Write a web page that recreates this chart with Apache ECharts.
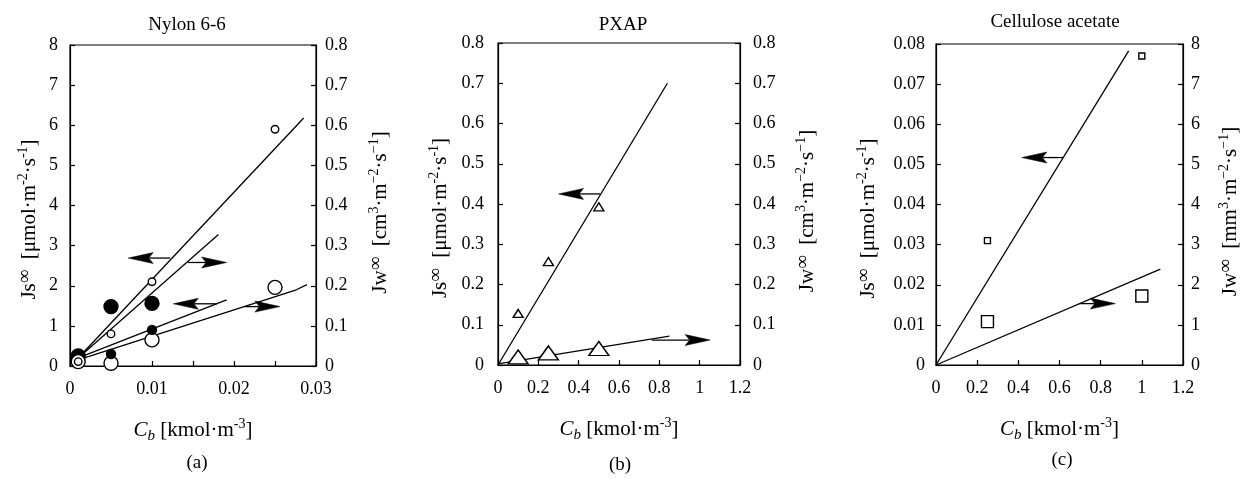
<!DOCTYPE html>
<html><head><meta charset="utf-8">
<script src="https://cdn.jsdelivr.net/npm/echarts@6/dist/echarts.min.js"></script>
<style>html,body{margin:0;padding:0;background:#fff}#c{width:1242px;height:479px}</style>
</head><body><div id="c"></div>
<script>
// ---------- Panel (a) Nylon 6-6 ----------
const aTicksX = [0, 0.03, 0.01];          // min, max, interval
const aTicksJs = [0, 8, 1];
const aTicksJw = [0, 0.8, 0.1];
const aJsOpenX = [0.001, 0.005, 0.01, 0.025];
const aJsOpenY = [0.11, 0.8, 2.1, 5.9];
const aJsFilledX = [0.005, 0.01];
const aJsFilledY = [0.3, 0.9];
const aJwFilledX = [0.001, 0.005, 0.01];
const aJwFilledY = [0.025, 0.148, 0.156];
const aJwOpenX = [0.001, 0.005, 0.01, 0.025];
const aJwOpenY = [0.011, 0.007, 0.065, 0.196];
const aFitJsOpen = [[0.001, 0.2], [0.0285, 6.18]];
const aFitJwFilled = [[0.001, 0.02], [0.0181, 0.328]];
const aFitJsFilled = [[0.001, 0.2], [0.0191, 1.65]];
const aFitJwOpen = [[0.001, 0.015], [0.0276, 0.19], [0.0289, 0.203]];
// arrows (in Js coordinates): [x1, y1, x2(tip), y2]
const aArrows = [[0.0122, 2.69, 0.0071, 2.69], [0.0144, 2.58, 0.0191, 2.58],
                 [0.0179, 1.55, 0.0126, 1.55], [0.0213, 1.48, 0.0256, 1.48]];

// ---------- Panel (b) PXAP ----------
const bTicksX = [0, 1.2, 0.2];
const bTicksJs = [0, 0.8, 0.1];
const bTicksJw = [0, 0.8, 0.1];
const bX = [0.1, 0.25, 0.5];
const bJs = [0.128, 0.257, 0.393];
const bJw = [0.02, 0.03, 0.041];
const bFitJs = [[0, 0], [0.84, 0.70]];
const bFitJw = [[0, 0.003], [0.85, 0.072]];
const bArrows = [[0.506, 0.425, 0.30, 0.425], [0.762, 0.062, 1.052, 0.062]];

// ---------- Panel (c) Cellulose acetate ----------
const cTicksX = [0, 1.2, 0.2];
const cTicksJs = [0, 0.08, 0.01];
const cTicksJw = [0, 8, 1];
const cX = [0.25, 1.0];
const cJs = [0.031, 0.077];
const cJw = [1.08, 1.72];
const cFitJs = [[0, 0], [0.936, 0.0783]];
const cFitJw = [[0, 0], [1.09, 2.39]];
const cArrows = [[0.617, 0.0517, 0.417, 0.0517], [0.693, 0.0153, 0.871, 0.0153]];

const titles = ['Nylon 6-6', 'PXAP', 'Cellulose acetate'];
const panelTags = ['(a)', '(b)', '(c)'];

const FONT = 'Liberation Serif';
const rich = {
  n: {fontFamily: FONT, fontSize: 21, lineHeight: 27, color: '#000'},
  i: {fontFamily: FONT, fontSize: 21, lineHeight: 27, fontStyle: 'italic', color: '#000'},
  sup: {fontFamily: FONT, fontSize: 14, verticalAlign: 'top', color: '#000'},
  inf: {fontFamily: FONT, fontSize: 19, lineHeight: 17, verticalAlign: 'top', color: '#000'},
  sub: {fontFamily: FONT, fontSize: 15, verticalAlign: 'bottom', fontStyle: 'italic', color: '#000'}
};
const xName = '{i|C}{sub|b}{n| [kmol·m}{sup|-3}{n|]}';
const jsName = '{n|Js}{inf|∞}{n|  [μmol·m}{sup|-2}{n|·s}{sup|-1}{n|]}';
const jwNameCm = '{n|Jw}{inf|∞}{n|  [cm}{sup|3}{n|·m}{sup|−2}{n|·s}{sup|−1}{n|]}';
const jwNameMm = '{n|Jw}{inf|∞}{n|  [mm}{sup|3}{n|·m}{sup|−2}{n|·s}{sup|−1}{n|]}';

const LW = 1.2;
function xAxis(gi, t, minorSplit, nameGap) {
  return {
    type: 'value', gridIndex: gi, min: t[0], max: t[1], interval: t[2],
    axisLine: {show: true, onZero: false, lineStyle: {color: '#000', width: LW}},
    axisTick: {show: true, inside: true, length: 5, lineStyle: {color: '#000', width: LW}},
    minorTick: {show: !!minorSplit, splitNumber: minorSplit || 5, length: 5, lineStyle: {color: '#000', width: LW}},
    axisLabel: {margin: 14, color: '#000', fontFamily: FONT, fontSize: 18},
    splitLine: {show: false},
    name: xName, nameLocation: 'middle', nameGap: nameGap, nameTextStyle: {rich: rich}
  };
}
function yAxis(gi, pos, t, name, nameGap, margin, shiftDown) {
  return {
    type: 'value', gridIndex: gi, position: pos, min: t[0], max: t[1], interval: t[2],
    axisLine: {show: true, onZero: false, lineStyle: {color: '#000', width: LW}},
    axisTick: {show: true, inside: true, length: 5, lineStyle: {color: '#000', width: LW}},
    axisLabel: {margin: margin, color: '#000', fontFamily: FONT, fontSize: 18},
    splitLine: {show: false},
    name: name, nameLocation: 'middle', nameRotate: 90, nameGap: nameGap,
    nameTextStyle: {rich: rich, padding: [0, shiftDown * 2, 0, 0]}
  };
}
function zip(xs, ys) { return xs.map((x, i) => [x, ys[i]]); }
function scatter(xi, yi, data, symbol, size, filled, z) {
  return {type: 'scatter', xAxisIndex: xi, yAxisIndex: yi, data: data, symbol: symbol, symbolSize: size, z: z,
    itemStyle: {color: filled ? '#000' : '#fff', borderColor: '#000', borderWidth: 1.4, opacity: 1}};
}
function fit(xi, yi, data) {
  return {type: 'line', xAxisIndex: xi, yAxisIndex: yi, data: data, symbol: 'none', z: 2,
    lineStyle: {color: '#000', width: 1.3}};
}
const HEAD_L = 25, HEAD_W = 5.5;
function arrows(xi, yi, list) {
  return {type: 'custom', coordinateSystem: 'cartesian2d', xAxisIndex: xi, yAxisIndex: yi, z: 4, silent: true,
    data: list, encode: {x: [0, 2], y: [1, 3]},
    renderItem: function (params, api) {
      const p1 = api.coord([api.value(0), api.value(1)]);
      const p2 = api.coord([api.value(2), api.value(3)]);
      const dx = p2[0] - p1[0], dy = p2[1] - p1[1];
      const len = Math.hypot(dx, dy) || 1;
      const ux = dx / len, uy = dy / len, px = -uy, py = ux;
      const bx = p2[0] - ux * HEAD_L, by = p2[1] - uy * HEAD_L;
      const nx = p2[0] - ux * HEAD_L * 0.82, ny = p2[1] - uy * HEAD_L * 0.82;
      return {type: 'group', children: [
        {type: 'line', shape: {x1: p1[0], y1: p1[1], x2: nx, y2: ny}, style: {stroke: '#000', lineWidth: 1.3}},
        {type: 'polygon', shape: {points: [[p2[0], p2[1]], [bx + px * HEAD_W, by + py * HEAD_W], [nx, ny], [bx - px * HEAD_W, by - py * HEAD_W]]},
         style: {fill: '#000', stroke: '#000', lineWidth: 0.5}}
      ]};
    }};
}

const series = [
  // (a)
  fit(0, 0, aFitJsOpen), fit(0, 1, aFitJwFilled), fit(0, 0, aFitJsFilled), fit(0, 1, aFitJwOpen),
  scatter(0, 1, zip(aJwFilledX, aJwFilledY), 'circle', 14, true, 5),
  scatter(0, 1, zip(aJwOpenX, aJwOpenY), 'circle', 14, false, 6),
  scatter(0, 0, zip(aJsFilledX, aJsFilledY), 'circle', 9, true, 7),
  scatter(0, 0, zip(aJsOpenX, aJsOpenY), 'circle', 7.5, false, 8),
  arrows(0, 0, aArrows),
  // (b)
  fit(1, 2, bFitJs), fit(1, 3, bFitJw),
  scatter(1, 2, zip(bX, bJs), 'triangle', [10, 8], false, 6),
  scatter(1, 3, zip(bX, bJw), 'triangle', [20, 14], false, 6),
  arrows(1, 2, bArrows),
  // (c)
  fit(2, 4, cFitJs), fit(2, 5, cFitJw),
  scatter(2, 4, zip(cX, cJs), 'rect', 6, false, 6),
  scatter(2, 5, zip(cX, cJw), 'rect', 12, false, 6),
  arrows(2, 4, cArrows)
];

const grids = [
  {left: 70, top: 45, width: 246, height: 321},
  {left: 498, top: 43, width: 242, height: 322},
  {left: 936, top: 44, width: 247, height: 321}
].map(g => Object.assign({show: true, borderColor: '#000', borderWidth: LW, containLabel: false}, g));

function txt(s, x, y, size) {
  return {type: 'text', x: x, y: y, silent: true,
    style: {text: s, fill: '#000', font: size + 'px "' + FONT + '"', textAlign: 'center', textVerticalAlign: 'middle', align: 'center', verticalAlign: 'middle'}};
}

const chart = echarts.init(document.getElementById('c'), null, {renderer: 'canvas'});
chart.setOption({
  animation: false,
  backgroundColor: '#fff',
  grid: grids,
  xAxis: [xAxis(0, aTicksX, 2, 51), xAxis(1, bTicksX, 0, 51), xAxis(2, cTicksX, 0, 51)],
  yAxis: [
    yAxis(0, 'left', aTicksJs, jsName, 27, 12, 14), yAxis(0, 'right', aTicksJw, jwNameCm, 51, 9, 7),
    yAxis(1, 'left', bTicksJs, jsName, 44, 14, 14), yAxis(1, 'right', bTicksJw, jwNameCm, 54, 13, 7),
    yAxis(2, 'left', cTicksJs, jsName, 54, 11, 14), yAxis(2, 'right', cTicksJw, jwNameMm, 34, 8, 7)
  ],
  graphic: [
    txt(titles[0], 187, 25, 19), txt(titles[1], 623, 25, 19), txt(titles[2], 1055, 22, 19),
    txt(panelTags[0], 197, 463, 19), txt(panelTags[1], 620, 465, 19), txt(panelTags[2], 1062, 460, 19)
  ],
  series: series
});
</script></body></html>
